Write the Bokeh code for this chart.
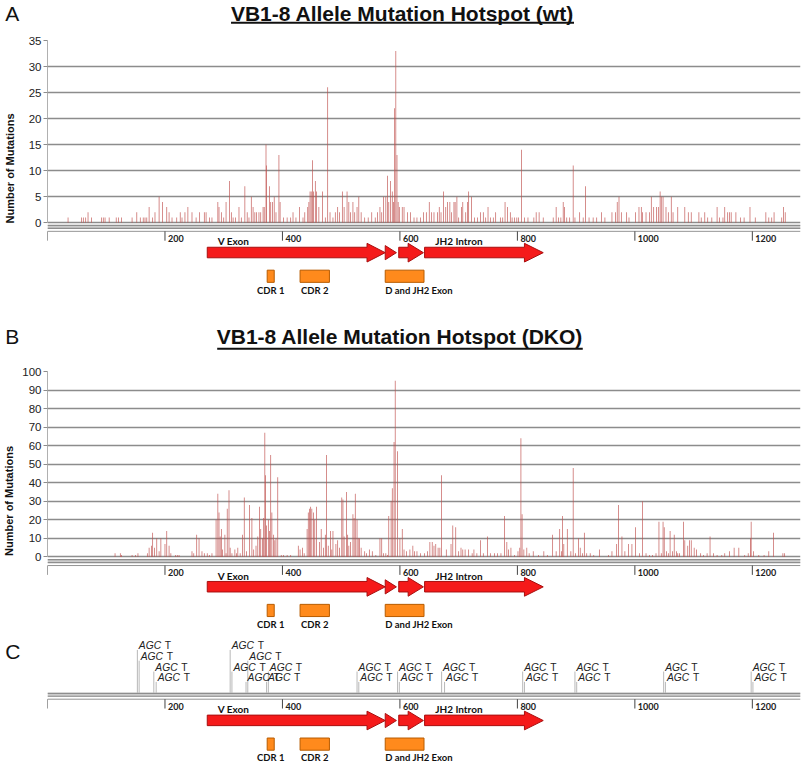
from bokeh.plotting import figure
from bokeh.layouts import column
from bokeh.models import Range1d, FixedTicker, Label
from bokeh.core.properties import value
from bokeh.embed import file_html
from bokeh.resources import INLINE

# ---------------- data ----------------
WT_TITLE = "VB1-8 Allele Mutation Hotspot (wt)"
DKO_TITLE = "VB1-8 Allele Mutation Hotspot (DKO)"
Y_LABEL = "Number of Mutations"

WT_POS = [35, 58, 61, 65, 69, 75, 92, 95, 98, 105, 117, 121, 126, 144, 152, 158, 163, 166, 169, 173,
          179, 183, 190, 196, 203, 207, 212, 220, 226, 229, 234, 239, 246, 253, 259, 267, 270, 276, 280, 290,
          292, 296, 300, 304, 310, 313, 316, 320, 326, 330, 336, 340, 343, 347, 350, 353, 356, 360, 363, 367,
          369, 372, 373, 378, 380, 383, 386, 389, 394, 396, 402, 408, 414, 418, 423, 429, 435, 438, 443, 445,
          447, 449, 451, 453, 456, 458, 462, 468, 473, 477, 481, 486, 490, 494, 497, 502, 505, 510, 513, 516,
          520, 523, 527, 530, 534, 540, 546, 552, 558, 562, 566, 569, 572, 576, 579, 581, 584, 587, 589, 591,
          593, 595, 597, 599, 604, 607, 613, 618, 624, 629, 635, 640, 645, 650, 654, 658, 664, 667, 670, 674,
          678, 681, 685, 688, 692, 694, 697, 700, 705, 707, 712, 715, 717, 722, 727, 732, 737, 742, 746, 750,
          754, 759, 763, 771, 775, 779, 783, 788, 791, 795, 799, 802, 807, 812, 818, 828, 832, 837, 844, 861,
          866, 870, 874, 878, 880, 884, 889, 895, 898, 906, 912, 916, 922, 929, 935, 943, 949, 961, 967, 970,
          973, 977, 986, 990, 1001, 1007, 1011, 1013, 1019, 1025, 1028, 1032, 1037, 1040, 1043, 1045, 1048, 1053, 1057, 1062,
          1065, 1073, 1085, 1091, 1096, 1109, 1113, 1119, 1124, 1131, 1140, 1144, 1150, 1153, 1158, 1161, 1164, 1172, 1180, 1186,
          1196, 1205, 1223, 1228, 1233, 1237, 1250, 1253, 1256]
WT_VAL = [1, 1, 1, 1, 2, 1, 1, 1, 1, 1, 1, 1, 1, 1, 2, 1, 1, 1, 1, 3,
          1, 2, 5, 4, 3, 2, 1, 1, 2, 1, 2, 3, 2, 1, 2, 2, 2, 1, 1, 4,
          3, 2, 1, 4, 8, 2, 1, 1, 3, 1, 7, 2, 1, 5, 3, 2, 2, 2, 2, 3,
          3, 15, 11, 7, 4, 4, 5, 2, 13, 4, 1, 1, 1, 2, 1, 3, 1, 2, 3, 4,
          6, 6, 12, 6, 8, 6, 3, 6, 1, 26, 2, 1, 2, 3, 2, 6, 3, 6, 4, 2,
          4, 2, 3, 5, 2, 1, 1, 2, 1, 2, 3, 2, 5, 5, 9, 4, 8, 6, 4, 22,
          33, 13, 4, 3, 3, 3, 2, 2, 1, 1, 1, 2, 2, 4, 2, 2, 2, 3, 2, 6,
          3, 4, 4, 2, 4, 4, 5, 1, 3, 4, 2, 4, 6, 5, 1, 1, 2, 2, 1, 3,
          1, 1, 2, 1, 1, 4, 3, 2, 1, 1, 1, 1, 14, 1, 1, 1, 2, 2, 1, 1,
          3, 1, 1, 4, 3, 1, 1, 11, 1, 2, 1, 7, 1, 1, 1, 2, 1, 2, 2, 4,
          5, 2, 2, 1, 2, 3, 3, 2, 2, 2, 5, 3, 3, 3, 6, 5, 5, 3, 2, 5,
          2, 3, 3, 2, 2, 2, 1, 2, 1, 1, 3, 1, 1, 3, 2, 2, 2, 2, 1, 1,
          3, 1, 2, 1, 1, 2, 1, 3, 2]

DKO_POS = [115, 124, 126, 144, 150, 154, 170, 173, 177, 179, 182, 186, 190, 193, 200, 203, 207, 210, 218, 221,
           224, 246, 249, 254, 258, 263, 267, 272, 276, 280, 287, 290, 292, 294, 296, 298, 302, 304, 306, 309,
           311, 314, 319, 322, 324, 328, 332, 335, 339, 344, 348, 351, 355, 358, 361, 363, 366, 368, 370, 371,
           373, 376, 378, 380, 382, 385, 387, 389, 392, 398, 402, 408, 414, 427, 430, 434, 437, 442, 444, 446,
           448, 450, 453, 455, 458, 463, 466, 470, 473, 475, 478, 482, 484, 486, 491, 494, 497, 501, 503, 505,
           509, 511, 513, 516, 520, 522, 524, 527, 529, 531, 534, 540, 543, 548, 553, 559, 566, 569, 572, 576,
           579, 581, 585, 587, 590, 592, 596, 600, 604, 607, 611, 617, 622, 625, 629, 635, 642, 647, 651, 655,
           658, 661, 665, 668, 671, 679, 687, 690, 695, 700, 704, 707, 711, 717, 723, 726, 731, 737, 742, 749,
           754, 761, 766, 772, 778, 782, 785, 789, 795, 801, 804, 806, 808, 811, 816, 820, 827, 836, 845, 851,
           860, 866, 872, 875, 877, 879, 885, 891, 895, 899, 904, 907, 911, 914, 918, 924, 930, 940, 955, 961,
           969, 972, 978, 983, 989, 995, 1001, 1008, 1013, 1019, 1025, 1030, 1036, 1041, 1045, 1048, 1050, 1054, 1057, 1060,
           1064, 1067, 1071, 1073, 1076, 1083, 1085, 1090, 1093, 1096, 1101, 1105, 1112, 1117, 1123, 1128, 1134, 1140, 1148, 1153,
           1161, 1169, 1177, 1187, 1193, 1197, 1198, 1202, 1211, 1220, 1228, 1236, 1252, 1255]
DKO_VAL = [2, 2, 1, 1, 1, 2, 2, 5, 6, 13, 5, 10, 3, 10, 7, 14, 6, 2, 1, 1,
           1, 3, 2, 12, 10, 3, 2, 2, 1, 2, 20, 34, 24, 11, 15, 4, 12, 2, 26, 36,
           5, 2, 4, 2, 5, 2, 12, 32, 3, 28, 21, 4, 6, 11, 27, 15, 10, 21, 67, 44,
           17, 20, 14, 55, 24, 12, 9, 10, 43, 1, 1, 1, 1, 6, 4, 5, 2, 15, 24, 26,
           27, 26, 24, 20, 27, 8, 15, 5, 12, 55, 6, 14, 4, 14, 7, 9, 5, 32, 31, 11,
           35, 12, 6, 8, 23, 21, 34, 20, 10, 10, 5, 3, 2, 4, 3, 1, 10, 10, 2, 2,
           1, 22, 30, 37, 62, 95, 57, 10, 15, 4, 3, 4, 6, 3, 3, 2, 2, 3, 8, 8,
           6, 7, 5, 5, 44, 4, 7, 17, 16, 3, 5, 4, 4, 4, 2, 4, 2, 9, 2, 11,
           2, 2, 2, 2, 22, 8, 4, 5, 1, 3, 5, 64, 23, 4, 5, 2, 3, 1, 3, 1,
           12, 3, 15, 3, 22, 7, 15, 3, 48, 2, 10, 5, 2, 13, 2, 2, 1, 4, 1, 3,
           7, 28, 11, 3, 7, 7, 16, 2, 30, 2, 1, 1, 2, 19, 2, 19, 16, 3, 2, 14,
           3, 12, 3, 2, 2, 19, 9, 6, 9, 9, 5, 4, 2, 1, 2, 11, 2, 1, 1, 2,
           3, 5, 5, 1, 2, 10, 19, 3, 1, 1, 3, 13, 2, 2]

WT_TICKS = [0, 5, 10, 15, 20, 25, 30, 35]
DKO_TICKS = [0, 10, 20, 30, 40, 50, 60, 70, 80, 90, 100]
X_MAX = 1282
RULER_TICKS = [0, 200, 400, 600, 800, 1000, 1200]
RULER_LABELS = ["200", "400", "600", "800", "1000", "1200"]

ARROW_START = [272, 575, 598, 642]
ARROW_HEAD = [544, 575, 614, 812]
ARROW_END = [575, 594, 640, 844]
ARROW_LABELS = ["V Exon", "JH2 Intron"]
ARROW_LABEL_X = [290, 660]

REGION_NAMES = ["CDR 1", "CDR 2", "D and JH2 Exon"]
REGION_START = [374, 430, 575]
REGION_END = [386, 480, 641]

MOTIF_POS = [153, 156, 181, 185, 311, 314, 338, 341, 373, 376, 527, 530,
             596, 599, 671, 676, 809, 812, 898, 901, 1049, 1052, 1198, 1201]
MOTIF_ROW = [1, 2, 3, 4, 1, 3, 4, 2, 4, 3, 3, 4,
             3, 4, 3, 4, 3, 4, 3, 4, 3, 4, 3, 4]

# ---------------- layout ----------------
S = 0.983
W = 802
LEFT, RIGHT = 43, 2
FRAME_W = W - LEFT - RIGHT
PXBP = FRAME_W / X_MAX
SANS = value("Liberation Sans")
LATO = value("Lato")
BAR_COLOR = "#c0504d"


def base_fig(h, x_range, y_range, top=0, axis=False):
    kw = dict(width=W, height=h, x_range=x_range, y_range=y_range, x_axis_location=None,
              toolbar_location=None, output_backend="svg",
              min_border_left=LEFT, min_border_right=RIGHT, min_border_top=top, min_border_bottom=0)
    if not axis:
        kw["y_axis_location"] = None
    p = figure(**kw)
    p.outline_line_color = None
    p.background_fill_color = "white"
    p.border_fill_color = "white"
    p.xgrid.visible = False
    if not axis:
        p.ygrid.visible = False
    return p


def letter(p, x, y, t):
    p.add_layout(Label(x=x, y=y, text=t, text_font="Liberation Sans", text_font_size="21px",
                       text_color="#111111", text_baseline="middle", text_align="left"), "left")


def header(h, let, letter_mid, title, title_x, title_mid, ul_x0, ul_x1, ul_y):
    # x in pixels measured from the plot frame's left edge, y in pixels downward
    p = base_fig(h, Range1d(0, FRAME_W), Range1d(h, 0))
    letter(p, 0.5 - LEFT, letter_mid, let)
    p.text(x=[title_x - LEFT], y=[title_mid], text=[title], text_font=SANS, text_font_size="21px",
           text_font_style="bold", text_color="#111111", text_baseline="middle", text_align="center")
    p.segment(x0=[ul_x0 - LEFT], x1=[ul_x1 - LEFT], y0=[ul_y], y1=[ul_y], line_color="#111111", line_width=2)
    return p


def draw_track(p, r, yname):
    def o(v):
        return r + v * S
    kw = dict(y_range_name=yname)
    p.quad(left=[0], right=[X_MAX], top=[o(0)], bottom=[o(4)], fill_color="#cccccc",
           line_color=None, **kw)
    p.segment(x0=[0, 0], x1=[X_MAX, X_MAX], y0=[o(0.5), o(3.5)], y1=[o(0.5), o(3.5)],
              line_color="#8e8e8e", line_width=1.2, **kw)
    p.segment(x0=[0], x1=[X_MAX], y0=[o(6.5)], y1=[o(6.5)], line_color="#777777", line_width=0.8, **kw)
    n = len(RULER_TICKS)
    p.segment(x0=RULER_TICKS, x1=RULER_TICKS, y0=[o(6.5)] * n, y1=[o(16)] * n,
              line_color="#444444", line_width=1, **kw)
    p.text(x=RULER_TICKS[1:], y=[o(13.9)] * len(RULER_LABELS), text=RULER_LABELS, x_offset=3,
           text_font=LATO, text_font_style="bold", text_font_size="9px", text_color="#222222",
           text_baseline="middle", text_align="left", **kw)
    xs, ys = [], []
    for s_, h_, e_ in zip(ARROW_START, ARROW_HEAD, ARROW_END):
        if h_ <= s_:
            xs.append([s_, e_, s_])
            ys.append([o(21), o(28.2), o(35.4)])
        else:
            xs.append([s_, h_, h_, e_, h_, h_, s_])
            ys.append([o(22.7), o(22.7), o(18.7), o(28.2), o(37.7), o(33.4), o(33.4)])
    p.patches(xs=xs, ys=ys, fill_color="#f51a1a", line_color="#a80f0f", line_width=1, **kw)
    p.text(x=ARROW_LABEL_X, y=[o(16.7)] * len(ARROW_LABELS), text=ARROW_LABELS,
           text_font=LATO, text_font_style="bold", text_font_size="10px", text_color="#111111",
           text_baseline="middle", text_align="left", **kw)
    m = len(REGION_NAMES)
    p.quad(left=REGION_START, right=REGION_END, top=[o(46)] * m, bottom=[o(58.4)] * m,
           fill_color="#ff8a1c", line_color="#b85c00", line_width=1, **kw)
    cx = [(a + b) / 2 for a, b in zip(REGION_START[:2], REGION_END[:2])]
    p.text(x=cx, y=[o(66.2)] * 2, text=REGION_NAMES[:2], text_font=LATO, text_font_style="bold",
           text_font_size="9.5px", text_color="#111111", text_baseline="middle", text_align="center", **kw)
    p.text(x=REGION_START[2:], y=[o(66.2)], text=REGION_NAMES[2:], text_font=LATO, text_font_style="bold",
           text_font_size="9.5px", text_color="#111111", text_baseline="middle", text_align="left", **kw)


def main_panel(pos, vals, ymax, ticks, chart_px, frame_h, label_standoff):
    below = frame_h - chart_px
    y0 = -below * ymax / chart_px
    p = base_fig(frame_h + 6, Range1d(0, X_MAX), Range1d(y0, ymax), top=6, axis=True)
    p.extra_y_ranges = {"ann": Range1d(start=below, end=-chart_px)}
    t = FixedTicker(ticks=ticks)
    ax = p.yaxis[0]
    ax.ticker = t
    ax.bounds = (0, ymax)
    ax.axis_line_color = "#b0b0b0"
    ax.major_tick_line_color = "#8c8c8c"
    ax.major_tick_out = 4
    ax.major_tick_in = 0
    ax.minor_tick_line_color = None
    ax.major_label_standoff = 2
    ax.major_label_text_font = "Liberation Sans"
    ax.major_label_text_font_size = "11.5px"
    ax.major_label_text_color = "#222222"
    ax.axis_label = Y_LABEL
    ax.axis_label_text_font = "Liberation Sans"
    ax.axis_label_text_font_style = "bold"
    ax.axis_label_text_font_size = "11px"
    ax.axis_label_text_color = "#111111"
    ax.axis_label_standoff = label_standoff
    p.ygrid.ticker = t
    p.ygrid.grid_line_color = "#8c8c8c"
    p.ygrid.grid_line_width = 1.3
    p.vbar(x=pos, top=vals, width=1.3, fill_color=BAR_COLOR, fill_alpha=0.85, line_color=None)
    draw_track(p, 2.25, "ann")
    return p


def motif_panel(h, r):
    p = base_fig(h, Range1d(0, X_MAX), Range1d(h, 0))
    row_off = {1: -47.4, 2: -36.6, 3: -25.8, 4: -15.4}
    ly = [r + row_off[k] for k in MOTIF_ROW]
    n = len(MOTIF_POS)
    p.segment(x0=MOTIF_POS, x1=MOTIF_POS, y0=[r] * n, y1=[y + 4.5 for y in ly],
              line_color="#b8b8b8", line_width=1)
    p.text(x=MOTIF_POS, y=ly, text=["AGC"] * n, x_offset=1.5, text_font=SANS, text_font_style="italic",
           text_font_size="10.3px", text_color="#222222", text_baseline="middle", text_align="left")
    p.text(x=MOTIF_POS, y=ly, text=["T"] * n, x_offset=27.5, text_font=SANS,
           text_font_size="10.3px", text_color="#222222", text_baseline="middle", text_align="left")
    letter(p, (0.5 - LEFT) / PXBP, r - 41.3, "C")
    draw_track(p, r, "default")
    return p


hA = header(34, "A", 13.0, WT_TITLE, 399.8, 12.8, 227.5, 572.3, 22.3)
mA = main_panel(WT_POS, WT_VAL, 35, WT_TICKS, 182.2, 256, 10)
hB = header(69, "B", 40.2, DKO_TITLE, 397.3, 40.2, 213.6, 581.1, 52.3)
mB = main_panel(DKO_POS, DKO_VAL, 100, DKO_TICKS, 185.4, 259, 4)
pC = motif_panel(132, 62.3)

layout = column(hA, mA, hB, mB, pC, spacing=0)
open("out.html", "w").write(file_html(layout, INLINE))
